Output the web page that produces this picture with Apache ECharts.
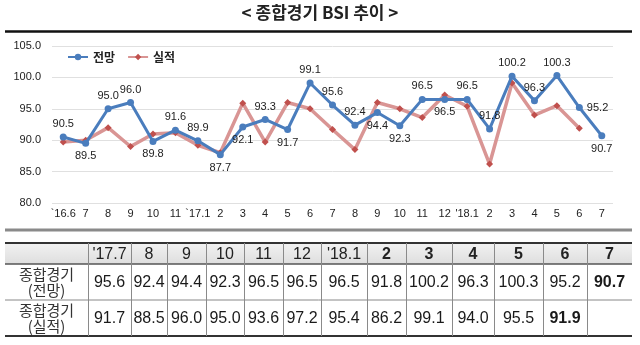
<!DOCTYPE html>
<html><head><meta charset="utf-8">
<script src="https://cdn.jsdelivr.net/npm/echarts@6/dist/echarts.min.js"></script>
<style>html,body{margin:0;padding:0;background:#fff}#c{width:640px;height:345px}</style>
</head><body><div id="c"></div>
<script>
// ---- data ----
var categories = ["`16.6","7","8","9","10","11","`17.1","2","3","4","5","6","7","8","9","10","11","12","'18.1","2","3","4","5","6","7"];
var forecast = [90.5,89.5,95.0,96.0,89.8,91.6,89.9,87.7,92.1,93.3,91.7,99.1,95.6,92.4,94.4,92.3,96.5,96.5,96.5,91.8,100.2,96.3,100.3,95.2,90.7];
var actual = [89.7,90.0,92.0,89.0,91.0,91.2,89.2,88.0,95.9,89.7,96.0,95.0,91.7,88.5,96.0,95.0,93.6,97.2,95.4,86.2,99.1,94.0,95.5,91.9,null];
var seriesNames = ["전망","실적"];
var tableHeaders = ["'17.7","8","9","10","11","12","'18.1","2","3","4","5","6","7"];
var rowLabels = ["종합경기\n(전망)","종합경기\n(실적)"];
var titleText = "< 종합경기 BSI 추이 >";

// ---- layout / style ----
var labelPos = ["top","bottom","top","top","bottom","top","top","bottom","bottom","top","bottom","top","top","top","bottom","bottom","top","bottom","top","top","top","top","top","right","bottom"];
var colEdges = [5,88,131,167,206,244,283,321,367,406,452,494,543,587,632];
var boldHeaderFrom = 7;
var tTop = 243, tHead = 264, tMid = 300, tBot = 336;
var tableStart = forecast.length - tableHeaders.length;

var g = [];
g.push({type:'text', left:'center', top:4, style:{text:titleText, font:'bold 17px "Noto Sans CJK KR"', fill:'#222'}});
g.push({type:'line', shape:{x1:5,y1:31.5,x2:632,y2:31.5}, style:{stroke:'#111', lineWidth:2.5}});
g.push({type:'line', shape:{x1:5,y1:230,x2:632,y2:230}, style:{stroke:'#8a8a8a', lineWidth:3}});
// table background
g.push({type:'rect', shape:{x:5,y:tTop,width:627,height:tHead-tTop}, style:{fill:new echarts.graphic.LinearGradient(0,0,0,1,[{offset:0,color:'#f2f2f2'},{offset:1,color:'#dedede'}])}});
// horizontal rules
g.push({type:'line', shape:{x1:5,y1:tTop,x2:632,y2:tTop}, style:{stroke:'#333', lineWidth:2}});
g.push({type:'line', shape:{x1:5,y1:tHead,x2:632,y2:tHead}, style:{stroke:'#555', lineWidth:1.5}});
g.push({type:'line', shape:{x1:5,y1:tMid,x2:632,y2:tMid}, style:{stroke:'#888', lineWidth:1}});
g.push({type:'line', shape:{x1:5,y1:tBot,x2:632,y2:tBot}, style:{stroke:'#333', lineWidth:2}});
for (var k=1;k<colEdges.length-1;k++){
  g.push({type:'line', shape:{x1:colEdges[k]+0.5,y1:tTop,x2:colEdges[k]+0.5,y2:tBot}, style:{stroke:'#8a8a8a', lineWidth:1}});
}
// row labels
for (var r=0;r<rowLabels.length;r++){
  var cy = r===0 ? (tHead+tMid)/2 : (tMid+tBot)/2;
  g.push({type:'text', x:(colEdges[0]+colEdges[1])/2, y:cy, style:{text:rowLabels[r], font:'15px "Noto Sans CJK KR"', fill:'#333', align:'center', verticalAlign:'middle', lineHeight:16}});
}
// header + values
for (var c=0;c<tableHeaders.length;c++){
  var cx = (colEdges[c+1]+colEdges[c+2])/2;
  g.push({type:'text', x:cx, y:(tTop+tHead)/2+1, style:{text:tableHeaders[c], font:(c>=boldHeaderFrom?'bold ':'')+'16px "Liberation Sans"', fill:'#222', align:'center', verticalAlign:'middle'}});
  var v1 = forecast[tableStart+c], v2 = actual[tableStart+c];
  var last1 = (c===tableHeaders.length-1);
  if (v1!=null) g.push({type:'text', x:cx, y:(tHead+tMid)/2+1, style:{text:v1.toFixed(1), font:(last1?'bold ':'')+'16px "Liberation Sans"', fill:'#1a1a1a', align:'center', verticalAlign:'middle'}});
  var last2 = (v2!=null && (tableStart+c+1>=actual.length || actual[tableStart+c+1]==null));
  if (v2!=null) g.push({type:'text', x:cx, y:(tMid+tBot)/2+1, style:{text:v2.toFixed(1), font:(last2?'bold ':'')+'16px "Liberation Sans"', fill:'#1a1a1a', align:'center', verticalAlign:'middle'}});
}

var chart = echarts.init(document.getElementById('c'));
chart.setOption({
  animation:false,
  textStyle:{fontFamily:'"Liberation Sans", "Noto Sans CJK KR"'},
  grid:{left:52, right:27, top:46, bottom:142, containLabel:false},
  legend:{left:62, top:46, itemWidth:20, itemHeight:8, itemGap:12,
    textStyle:{fontSize:12, fontWeight:'bold', color:'#222', fontFamily:'"Noto Sans CJK KR"'},
    data:[seriesNames[0], seriesNames[1]]},
  xAxis:{type:'category', data:categories, boundaryGap:true,
    axisLine:{show:false}, axisTick:{show:false},
    axisLabel:{fontSize:11, color:'#222', margin:5, interval:0}},
  yAxis:{type:'value', min:80, max:105, interval:5,
    axisLine:{show:false}, axisTick:{show:false},
    axisLabel:{fontSize:11, color:'#222', margin:11, formatter:function(v){return v.toFixed(1);}},
    splitLine:{lineStyle:{color:'#e0e0e0', width:1}}},
  series:[
    {name:seriesNames[1], type:'line', data:actual, symbol:'diamond', symbolSize:7,
      itemStyle:{color:'#c0504d'}, lineStyle:{color:'#d99594', width:3.5}, z:2},
    {name:seriesNames[0], type:'line', symbol:'circle', symbolSize:7,
      itemStyle:{color:'#4a7dbd'}, lineStyle:{color:'#4a7dbd', width:3}, z:3,
      label:{show:true, fontSize:11, color:'#222', distance:4, formatter:function(p){return p.value.toFixed(1);}},
      data:forecast.map(function(v,i){return {value:v, label:{position:labelPos[i]}};})}
  ],
  graphic:g
});
</script></body></html>
